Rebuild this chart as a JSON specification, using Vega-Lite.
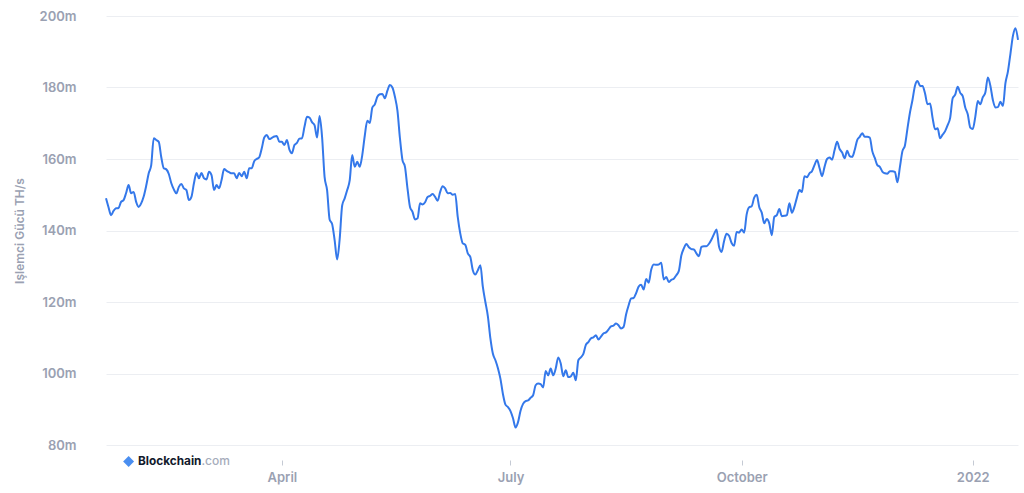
{
  "$schema": "https://vega.github.io/schema/vega-lite/v6.json",
  "width": 912,
  "height": 429,
  "autosize": {"type": "none"},
  "padding": {"left": 106, "top": 16, "right": 6, "bottom": 48},
  "background": "#ffffff",
  "config": {
    "view": {"stroke": null},
    "font": "Inter"
  },
  "datasets": {
    "brand": [{"name": "Blockchain", "suffix": ".com"}],
    "hash": [
      {"date":"2021-01-21","v":149.0},{"date":"2021-01-22","v":146.5},{"date":"2021-01-23","v":144.3},{"date":"2021-01-24","v":145.5},{"date":"2021-01-25","v":146.2},{"date":"2021-01-26","v":146.3},{"date":"2021-01-27","v":148.0},{"date":"2021-01-28","v":148.5},{"date":"2021-01-29","v":150.5},{"date":"2021-01-30","v":152.7},{"date":"2021-01-31","v":150.4},
      {"date":"2021-02-01","v":150.8},{"date":"2021-02-02","v":148.0},{"date":"2021-02-03","v":146.6},{"date":"2021-02-04","v":147.6},{"date":"2021-02-05","v":149.5},{"date":"2021-02-06","v":152.5},{"date":"2021-02-07","v":156.0},{"date":"2021-02-08","v":158.3},{"date":"2021-02-09","v":165.8},{"date":"2021-02-10","v":165.3},{"date":"2021-02-11","v":164.8},{"date":"2021-02-12","v":160.5},{"date":"2021-02-13","v":157.4},{"date":"2021-02-14","v":157.1},{"date":"2021-02-15","v":155.8},{"date":"2021-02-16","v":153.2},{"date":"2021-02-17","v":151.5},{"date":"2021-02-18","v":150.4},{"date":"2021-02-19","v":152.2},{"date":"2021-02-20","v":153.0},{"date":"2021-02-21","v":151.8},{"date":"2021-02-22","v":151.3},{"date":"2021-02-23","v":148.5},{"date":"2021-02-24","v":149.4},{"date":"2021-02-25","v":153.2},{"date":"2021-02-26","v":156.1},{"date":"2021-02-27","v":154.6},{"date":"2021-02-28","v":156.1},
      {"date":"2021-03-01","v":154.6},{"date":"2021-03-02","v":154.3},{"date":"2021-03-03","v":156.4},{"date":"2021-03-04","v":155.5},{"date":"2021-03-05","v":151.3},{"date":"2021-03-06","v":152.7},{"date":"2021-03-07","v":151.8},{"date":"2021-03-08","v":154.1},{"date":"2021-03-09","v":157.2},{"date":"2021-03-10","v":156.7},{"date":"2021-03-11","v":156.3},{"date":"2021-03-12","v":156.0},{"date":"2021-03-13","v":156.0},{"date":"2021-03-14","v":154.6},{"date":"2021-03-15","v":156.1},{"date":"2021-03-16","v":155.2},{"date":"2021-03-17","v":156.4},{"date":"2021-03-18","v":154.6},{"date":"2021-03-19","v":157.4},{"date":"2021-03-20","v":157.4},{"date":"2021-03-21","v":159.4},{"date":"2021-03-22","v":160.0},{"date":"2021-03-23","v":160.5},{"date":"2021-03-24","v":163.0},{"date":"2021-03-25","v":166.0},{"date":"2021-03-26","v":166.7},{"date":"2021-03-27","v":165.6},{"date":"2021-03-28","v":165.9},{"date":"2021-03-29","v":166.3},{"date":"2021-03-30","v":166.4},{"date":"2021-03-31","v":164.8},
      {"date":"2021-04-01","v":164.8},{"date":"2021-04-02","v":163.9},{"date":"2021-04-03","v":165.3},{"date":"2021-04-04","v":162.6},{"date":"2021-04-05","v":161.6},{"date":"2021-04-06","v":163.9},{"date":"2021-04-07","v":164.5},{"date":"2021-04-08","v":165.7},{"date":"2021-04-09","v":165.8},{"date":"2021-04-10","v":169.0},{"date":"2021-04-11","v":171.8},{"date":"2021-04-12","v":171.6},{"date":"2021-04-13","v":170.3},{"date":"2021-04-14","v":169.5},{"date":"2021-04-15","v":166.0},{"date":"2021-04-16","v":172.0},{"date":"2021-04-17","v":166.2},{"date":"2021-04-18","v":155.0},{"date":"2021-04-19","v":151.3},{"date":"2021-04-20","v":143.1},{"date":"2021-04-21","v":141.8},{"date":"2021-04-22","v":137.3},{"date":"2021-04-23","v":131.9},{"date":"2021-04-24","v":137.5},{"date":"2021-04-25","v":147.0},{"date":"2021-04-26","v":149.0},{"date":"2021-04-27","v":151.3},{"date":"2021-04-28","v":154.0},{"date":"2021-04-29","v":161.1},{"date":"2021-04-30","v":157.8},
      {"date":"2021-05-01","v":159.2},{"date":"2021-05-02","v":157.8},{"date":"2021-05-03","v":161.1},{"date":"2021-05-04","v":166.5},{"date":"2021-05-05","v":170.7},{"date":"2021-05-06","v":170.1},{"date":"2021-05-07","v":174.4},{"date":"2021-05-08","v":175.3},{"date":"2021-05-09","v":177.4},{"date":"2021-05-10","v":178.1},{"date":"2021-05-11","v":178.2},{"date":"2021-05-12","v":177.0},{"date":"2021-05-13","v":179.1},{"date":"2021-05-14","v":180.7},{"date":"2021-05-15","v":180.0},{"date":"2021-05-16","v":177.4},{"date":"2021-05-17","v":173.5},{"date":"2021-05-18","v":165.8},{"date":"2021-05-19","v":159.7},{"date":"2021-05-20","v":157.8},{"date":"2021-05-21","v":151.8},{"date":"2021-05-22","v":146.6},{"date":"2021-05-23","v":145.2},{"date":"2021-05-24","v":143.1},{"date":"2021-05-25","v":143.4},{"date":"2021-05-26","v":147.6},{"date":"2021-05-27","v":147.3},{"date":"2021-05-28","v":147.9},{"date":"2021-05-29","v":149.4},{"date":"2021-05-30","v":149.7},{"date":"2021-05-31","v":150.2},
      {"date":"2021-06-01","v":149.4},{"date":"2021-06-02","v":148.3},{"date":"2021-06-03","v":150.8},{"date":"2021-06-04","v":152.4},{"date":"2021-06-05","v":151.8},{"date":"2021-06-06","v":150.4},{"date":"2021-06-07","v":150.5},{"date":"2021-06-08","v":150.0},{"date":"2021-06-09","v":150.2},{"date":"2021-06-10","v":143.8},{"date":"2021-06-11","v":139.2},{"date":"2021-06-12","v":136.4},{"date":"2021-06-13","v":136.0},{"date":"2021-06-14","v":133.6},{"date":"2021-06-15","v":132.6},{"date":"2021-06-16","v":128.9},{"date":"2021-06-17","v":127.7},{"date":"2021-06-18","v":128.9},{"date":"2021-06-19","v":130.3},{"date":"2021-06-20","v":124.2},{"date":"2021-06-21","v":120.0},{"date":"2021-06-22","v":116.0},{"date":"2021-06-23","v":109.8},{"date":"2021-06-24","v":105.5},{"date":"2021-06-25","v":103.7},{"date":"2021-06-26","v":101.5},{"date":"2021-06-27","v":98.5},{"date":"2021-06-28","v":94.2},{"date":"2021-06-29","v":91.3},{"date":"2021-06-30","v":90.6},
      {"date":"2021-07-01","v":89.5},{"date":"2021-07-02","v":87.5},{"date":"2021-07-03","v":84.9},{"date":"2021-07-04","v":86.4},{"date":"2021-07-05","v":89.6},{"date":"2021-07-06","v":91.5},{"date":"2021-07-07","v":92.3},{"date":"2021-07-08","v":92.5},{"date":"2021-07-09","v":93.2},{"date":"2021-07-10","v":93.9},{"date":"2021-07-11","v":96.7},{"date":"2021-07-12","v":97.2},{"date":"2021-07-13","v":97.0},{"date":"2021-07-14","v":96.1},{"date":"2021-07-15","v":100.7},{"date":"2021-07-16","v":99.5},{"date":"2021-07-17","v":101.4},{"date":"2021-07-18","v":99.5},{"date":"2021-07-19","v":101.4},{"date":"2021-07-20","v":104.5},{"date":"2021-07-21","v":102.8},{"date":"2021-07-22","v":99.2},{"date":"2021-07-23","v":100.9},{"date":"2021-07-24","v":99.0},{"date":"2021-07-25","v":99.2},{"date":"2021-07-26","v":100.2},{"date":"2021-07-27","v":98.1},{"date":"2021-07-28","v":103.7},{"date":"2021-07-29","v":104.5},{"date":"2021-07-30","v":105.5},{"date":"2021-07-31","v":108.0},
      {"date":"2021-08-01","v":108.8},{"date":"2021-08-02","v":109.8},{"date":"2021-08-03","v":110.1},{"date":"2021-08-04","v":110.7},{"date":"2021-08-05","v":109.5},{"date":"2021-08-06","v":110.3},{"date":"2021-08-07","v":111.2},{"date":"2021-08-08","v":111.5},{"date":"2021-08-09","v":112.3},{"date":"2021-08-10","v":113.2},{"date":"2021-08-11","v":113.4},{"date":"2021-08-12","v":114.0},{"date":"2021-08-13","v":113.5},{"date":"2021-08-14","v":112.6},{"date":"2021-08-15","v":113.0},{"date":"2021-08-16","v":116.5},{"date":"2021-08-17","v":119.0},{"date":"2021-08-18","v":121.0},{"date":"2021-08-19","v":121.1},{"date":"2021-08-20","v":122.5},{"date":"2021-08-21","v":124.3},{"date":"2021-08-22","v":124.8},{"date":"2021-08-23","v":123.5},{"date":"2021-08-24","v":126.4},{"date":"2021-08-25","v":125.4},{"date":"2021-08-26","v":129.0},{"date":"2021-08-27","v":130.5},{"date":"2021-08-28","v":130.4},{"date":"2021-08-29","v":130.5},{"date":"2021-08-30","v":131.0},{"date":"2021-08-31","v":126.3},
      {"date":"2021-09-01","v":127.0},{"date":"2021-09-02","v":125.6},{"date":"2021-09-03","v":126.2},{"date":"2021-09-04","v":126.5},{"date":"2021-09-05","v":127.5},{"date":"2021-09-06","v":128.7},{"date":"2021-09-07","v":133.0},{"date":"2021-09-08","v":135.0},{"date":"2021-09-09","v":136.2},{"date":"2021-09-10","v":135.3},{"date":"2021-09-11","v":134.8},{"date":"2021-09-12","v":134.7},{"date":"2021-09-13","v":133.6},{"date":"2021-09-14","v":132.8},{"date":"2021-09-15","v":135.4},{"date":"2021-09-16","v":135.6},{"date":"2021-09-17","v":135.6},{"date":"2021-09-18","v":136.3},{"date":"2021-09-19","v":137.5},{"date":"2021-09-20","v":139.0},{"date":"2021-09-21","v":140.3},{"date":"2021-09-22","v":135.5},{"date":"2021-09-23","v":134.0},{"date":"2021-09-24","v":137.0},{"date":"2021-09-25","v":139.1},{"date":"2021-09-26","v":138.5},{"date":"2021-09-27","v":136.5},{"date":"2021-09-28","v":135.7},{"date":"2021-09-29","v":139.6},{"date":"2021-09-30","v":139.4},
      {"date":"2021-10-01","v":140.3},{"date":"2021-10-02","v":139.4},{"date":"2021-10-03","v":144.5},{"date":"2021-10-04","v":146.5},{"date":"2021-10-05","v":146.8},{"date":"2021-10-06","v":149.2},{"date":"2021-10-07","v":150.0},{"date":"2021-10-08","v":146.6},{"date":"2021-10-09","v":145.0},{"date":"2021-10-10","v":142.0},{"date":"2021-10-11","v":143.2},{"date":"2021-10-12","v":142.0},{"date":"2021-10-13","v":138.7},{"date":"2021-10-14","v":143.8},{"date":"2021-10-15","v":144.3},{"date":"2021-10-16","v":146.0},{"date":"2021-10-17","v":144.0},{"date":"2021-10-18","v":144.1},{"date":"2021-10-19","v":144.3},{"date":"2021-10-20","v":147.6},{"date":"2021-10-21","v":145.0},{"date":"2021-10-22","v":146.6},{"date":"2021-10-23","v":149.2},{"date":"2021-10-24","v":151.3},{"date":"2021-10-25","v":150.8},{"date":"2021-10-26","v":155.2},{"date":"2021-10-27","v":154.9},{"date":"2021-10-28","v":156.0},{"date":"2021-10-29","v":156.6},{"date":"2021-10-30","v":158.3},{"date":"2021-10-31","v":159.7},
      {"date":"2021-11-01","v":157.5},{"date":"2021-11-02","v":155.2},{"date":"2021-11-03","v":157.8},{"date":"2021-11-04","v":160.0},{"date":"2021-11-05","v":160.4},{"date":"2021-11-06","v":159.8},{"date":"2021-11-07","v":162.5},{"date":"2021-11-08","v":164.8},{"date":"2021-11-09","v":162.8},{"date":"2021-11-10","v":161.8},{"date":"2021-11-11","v":160.2},{"date":"2021-11-12","v":162.3},{"date":"2021-11-13","v":160.8},{"date":"2021-11-14","v":160.6},{"date":"2021-11-15","v":162.5},{"date":"2021-11-16","v":165.3},{"date":"2021-11-17","v":166.2},{"date":"2021-11-18","v":167.2},{"date":"2021-11-19","v":166.2},{"date":"2021-11-20","v":166.2},{"date":"2021-11-21","v":166.0},{"date":"2021-11-22","v":162.2},{"date":"2021-11-23","v":160.3},{"date":"2021-11-24","v":158.3},{"date":"2021-11-25","v":157.8},{"date":"2021-11-26","v":156.5},{"date":"2021-11-27","v":156.0},{"date":"2021-11-28","v":155.9},{"date":"2021-11-29","v":156.6},{"date":"2021-11-30","v":156.6},
      {"date":"2021-12-01","v":156.4},{"date":"2021-12-02","v":153.5},{"date":"2021-12-03","v":157.8},{"date":"2021-12-04","v":162.2},{"date":"2021-12-05","v":163.8},{"date":"2021-12-06","v":168.5},{"date":"2021-12-07","v":173.0},{"date":"2021-12-08","v":176.5},{"date":"2021-12-09","v":180.5},{"date":"2021-12-10","v":181.8},{"date":"2021-12-11","v":180.5},{"date":"2021-12-12","v":180.4},{"date":"2021-12-13","v":178.3},{"date":"2021-12-14","v":175.3},{"date":"2021-12-15","v":175.5},{"date":"2021-12-16","v":171.5},{"date":"2021-12-17","v":168.3},{"date":"2021-12-18","v":168.6},{"date":"2021-12-19","v":165.8},{"date":"2021-12-20","v":166.8},{"date":"2021-12-21","v":167.8},{"date":"2021-12-22","v":169.5},{"date":"2021-12-23","v":171.5},{"date":"2021-12-24","v":177.0},{"date":"2021-12-25","v":178.0},{"date":"2021-12-26","v":180.2},{"date":"2021-12-27","v":178.5},{"date":"2021-12-28","v":177.6},{"date":"2021-12-29","v":174.4},{"date":"2021-12-30","v":172.5},{"date":"2021-12-31","v":168.8},
      {"date":"2022-01-01","v":168.4},{"date":"2022-01-02","v":171.8},{"date":"2022-01-03","v":176.2},{"date":"2022-01-04","v":175.3},{"date":"2022-01-05","v":177.3},{"date":"2022-01-06","v":178.6},{"date":"2022-01-07","v":182.8},{"date":"2022-01-08","v":180.5},{"date":"2022-01-09","v":176.5},{"date":"2022-01-10","v":174.4},{"date":"2022-01-11","v":174.5},{"date":"2022-01-12","v":176.0},{"date":"2022-01-13","v":174.8},{"date":"2022-01-14","v":181.2},{"date":"2022-01-15","v":184.5},{"date":"2022-01-16","v":189.5},{"date":"2022-01-17","v":194.5},{"date":"2022-01-18","v":196.6},{"date":"2022-01-19","v":193.3}
    ]
  },
  "layer": [
    {
      "data": {"name": "hash"},
      "mark": {"type": "line", "interpolate": "monotone", "strokeWidth": 2, "color": "#3478ea"},
      "encoding": {
        "x": {
          "field": "date",
          "type": "temporal",
          "scale": {"type": "utc", "domain": [{"year": 2021, "month": 1, "date": 21, "utc": true}, {"year": 2022, "month": 1, "date": 19, "utc": true}], "nice": false},
          "axis": {
            "title": null,
            "tickCount": {"interval": "month", "step": 3},
            "grid": false,
            "domain": false,
            "offset": 15,
            "tickSize": 5,
            "tickColor": "#c5cad4",
            "labelFont": "Inter",
            "labelFontSize": 13,
            "labelFontWeight": 600,
            "labelColor": "#9aa1b2",
            "labelPadding": 6
          }
        },
        "y": {
          "field": "v",
          "type": "quantitative",
          "scale": {"domain": [80, 200], "nice": false, "zero": false},
          "axis": {
            "title": "Işlemci Gücü TH/s",
            "titleFont": "Inter",
            "titleFontSize": 12,
            "titleFontWeight": 600,
            "titleColor": "#9aa1b2",
            "titlePadding": 13,
            "values": [80, 90, 100, 110, 120, 130, 140, 150, 160, 170, 180, 190, 200],
            "labelExpr": "datum.value % 20 == 0 ? datum.value + 'm' : ''",
            "labelFont": "Inter",
            "labelFontSize": 13,
            "labelFontWeight": 600,
            "labelColor": "#9aa1b2",
            "labelPadding": 30,
            "ticks": false,
            "domain": false,
            "grid": true,
            "gridColor": "#eceef2",
            "gridWidth": 1
          }
        }
      }
    },
    {
      "data": {"name": "brand"},
      "mark": {"type": "point", "shape": "diamond", "filled": true, "size": 120, "color": "#4a8ef0", "opacity": 1},
      "encoding": {
        "x": {"datum": {"year": 2021, "month": 1, "date": 30, "utc": true}, "type": "temporal"},
        "y": {"datum": 75.4, "type": "quantitative"}
      }
    },
    {
      "data": {"name": "brand"},
      "mark": {"type": "text", "align": "right", "baseline": "middle", "font": "Inter", "fontSize": 11.8, "fontWeight": 700, "color": "#121a2c"},
      "encoding": {
        "text": {"field": "name", "type": "nominal"},
        "x": {"datum": {"year": 2021, "month": 2, "date": 28, "utc": true}, "type": "temporal"},
        "y": {"datum": 75.4, "type": "quantitative"}
      }
    },
    {
      "data": {"name": "brand"},
      "mark": {"type": "text", "align": "left", "baseline": "middle", "font": "Inter", "fontSize": 12, "fontWeight": 500, "color": "#a6acbb"},
      "encoding": {
        "text": {"field": "suffix", "type": "nominal"},
        "x": {"datum": {"year": 2021, "month": 2, "date": 28, "utc": true}, "type": "temporal"},
        "y": {"datum": 75.4, "type": "quantitative"}
      }
    }
  ]
}
